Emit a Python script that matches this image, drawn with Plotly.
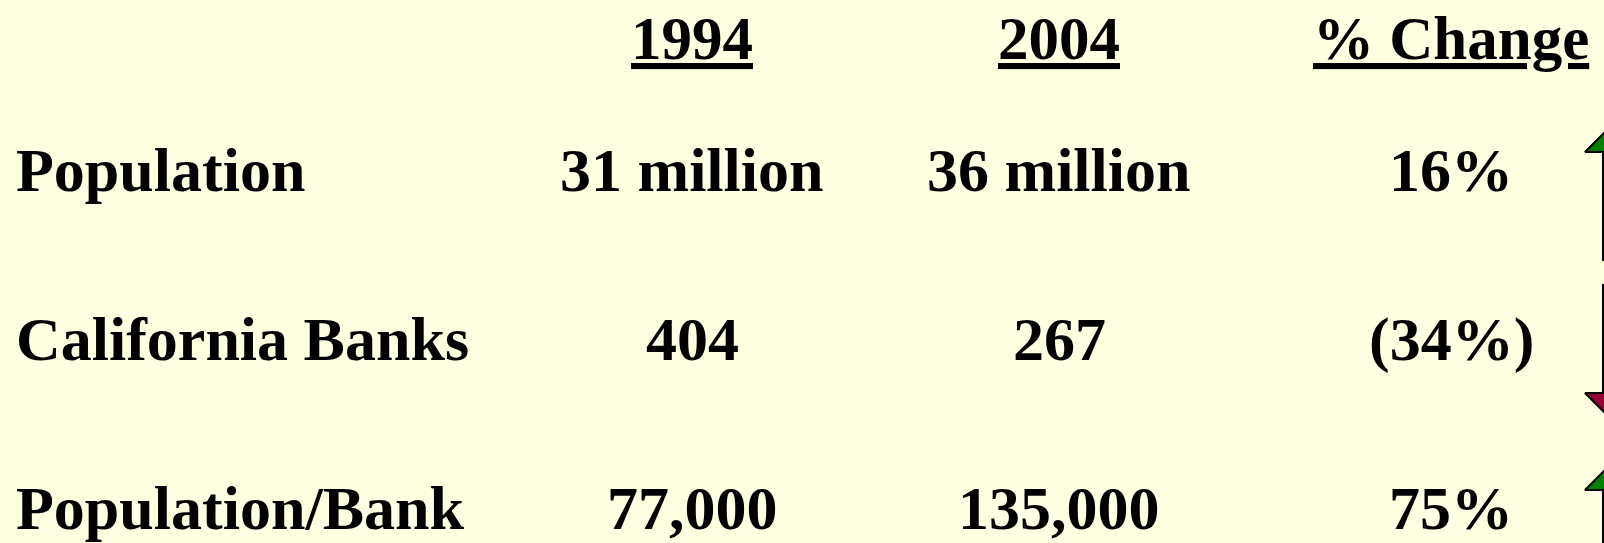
import plotly.graph_objects as go

# ---- data ----
headers = ["1994", "2004", "% Change"]
row_labels = ["Population", "California Banks", "Population/Bank"]
values_1994 = ["31 million", "404", "77,000"]
values_2004 = ["36 million", "267", "135,000"]
pct_change_text = ["16%", "(34%)", "75%"]
pct_change = [16, -34, 75]

# ---- layout / style constants ----
W, H = 1604, 543
BG = "#FFFFE1"
FONT = "Liberation Serif"
LABEL_X = 14
COL_X = [692, 1059, 1451]
ARROW_X = 1621            # arrow centre (partly beyond right edge)
PX_PER_ROW = 169.0
ROW0_PX = 1.0             # pixel of row unit 0
HEADER_Y = 0.219          # header row in row units
ROW_Y = [1, 2, 3]
UP_COLOR = "#008000"
DOWN_COLOR = "#990033"

def px2u(p):
    return (p - ROW0_PX) / PX_PER_ROW

fig = go.Figure()

# arrows indicating direction of change
shaft_hw, head_hw, head_h, shaft_len = 18, 36, 36, 108
arrow_offset = 18 / PX_PER_ROW
for ry, chg in zip(ROW_Y, pct_change):
    cy = ROW0_PX + PX_PER_ROW * (ry + arrow_offset)
    total = head_h + shaft_len
    top, bot = cy - total / 2, cy + total / 2
    xl, xr = ARROW_X - shaft_hw, ARROW_X + shaft_hw
    hl, hr = ARROW_X - head_hw, ARROW_X + head_hw
    if chg >= 0:
        base = top + head_h
        xs = [ARROW_X, hr, xr, xr, xl, xl, hl, ARROW_X]
        ys = [top, base, base, bot, bot, base, base, top]
        col = UP_COLOR
    else:
        base = bot - head_h
        xs = [ARROW_X, hl, xl, xl, xr, xr, hr, ARROW_X]
        ys = [bot, base, base, top, top, base, base, bot]
        col = DOWN_COLOR
    fig.add_trace(go.Scatter(
        x=xs, y=[px2u(v) for v in ys], mode="lines", fill="toself",
        fillcolor=col, line=dict(color="black", width=2),
        hoverinfo="skip", showlegend=False))

# headers
for cx, h in zip(COL_X, headers):
    fig.add_annotation(x=cx, y=HEADER_Y, xref="x", yref="y", text=f"<u><b>{h}</b></u>",
                       showarrow=False, xanchor="center", yanchor="middle",
                       font=dict(family=FONT, size=61, color="black"))

# row labels
for ry, lab in zip(ROW_Y, row_labels):
    fig.add_annotation(x=LABEL_X, y=ry, xref="x", yref="y", text=f"<b>{lab}</b>",
                       showarrow=False, xanchor="left", yanchor="middle",
                       font=dict(family=FONT, size=62, color="black"))

# values
for cx, col in zip(COL_X, [values_1994, values_2004, pct_change_text]):
    for ry, v in zip(ROW_Y, col):
        fig.add_annotation(x=cx, y=ry, xref="x", yref="y", text=f"<b>{v}</b>",
                           showarrow=False, xanchor="center", yanchor="middle",
                           font=dict(family=FONT, size=62, color="black"))

fig.update_layout(
    width=W, height=H,
    margin=dict(l=0, r=0, t=0, b=0),
    paper_bgcolor=BG, plot_bgcolor=BG,
    xaxis=dict(range=[0, W], visible=False, fixedrange=True),
    yaxis=dict(range=[px2u(H), px2u(0)], visible=False, fixedrange=True),
    showlegend=False,
)

fig.write_html(
    "out.html",
    config={"displayModeBar": False},
    post_script="document.body.style.margin='0';document.body.style.overflow='hidden';",
)
